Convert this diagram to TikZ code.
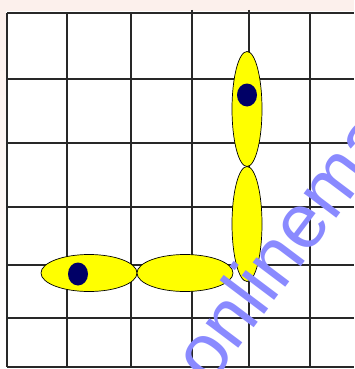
\documentclass[tikz,border=0pt]{standalone}
\usepackage{fontspec}
\newfontfamily\wmfont{Liberation Sans}
\usepackage{tikz}
\usetikzlibrary{shapes.geometric}
\definecolor{bgpink}{RGB}{252, 240, 236}
\definecolor{gridline}{RGB}{40, 40, 40}
\definecolor{petal}{RGB}{255, 255, 0}
\definecolor{eyedot}{RGB}{0, 0, 102}
\definecolor{wmblue}{RGB}{138, 138, 255}

\tikzset{
  cell/.style={draw=gridline, line width=1.6pt},
  petalh/.style={ellipse, draw=black, line width=0.7pt, fill=petal, inner sep=0pt, minimum width=96pt, minimum height=37pt},
  petalv/.style={ellipse, draw=black, line width=0.7pt, fill=petal, inner sep=0pt, minimum width=30pt, minimum height=115pt},
  eye/.style={ellipse, fill=eyedot, inner sep=0pt, minimum width=20pt, minimum height=23pt}
}

\begin{document}
\begin{tikzpicture}[x=1pt, y=-1pt]
  \useasboundingbox (0,0) rectangle (354,369);
  \fill[white] (0,0) rectangle (354,369);
  \fill[bgpink] (0,0) rectangle (354,11);
  \shade[top color=bgpink, bottom color=white] (0,11) rectangle (6,369);

  \foreach \gx in {7, 67, 131, 310}
    \draw[cell] (\gx,13) -- (\gx,367);
  \foreach \gx in {192, 249}
    \draw[cell] (\gx,10) -- (\gx,367);
  \foreach \gy in {13, 79, 143, 207, 265, 318, 367}
    \draw[cell] (7,\gy) -- (354,\gy);

  \node[petalh] (tail) at (89,273) {};
  \node[petalh] (base) at (185,273) {};
  \node[petalv] (stem) at (247,224) {};
  \node[petalv] (head) at (247,109) {};
  \node[eye] (taileye) at (78,274) {};
  \node[eye] (headeye) at (247,95) {};

  \begin{scope}
    \clip (0,0) rectangle (354,369);
    \node[anchor=base west, rotate=53, inner sep=0pt, text=wmblue,
      font=\wmfont\fontsize{77}{82}\selectfont] (mark) at (210,387) {onlinemath4all};
  \end{scope}
\end{tikzpicture}
\end{document}
